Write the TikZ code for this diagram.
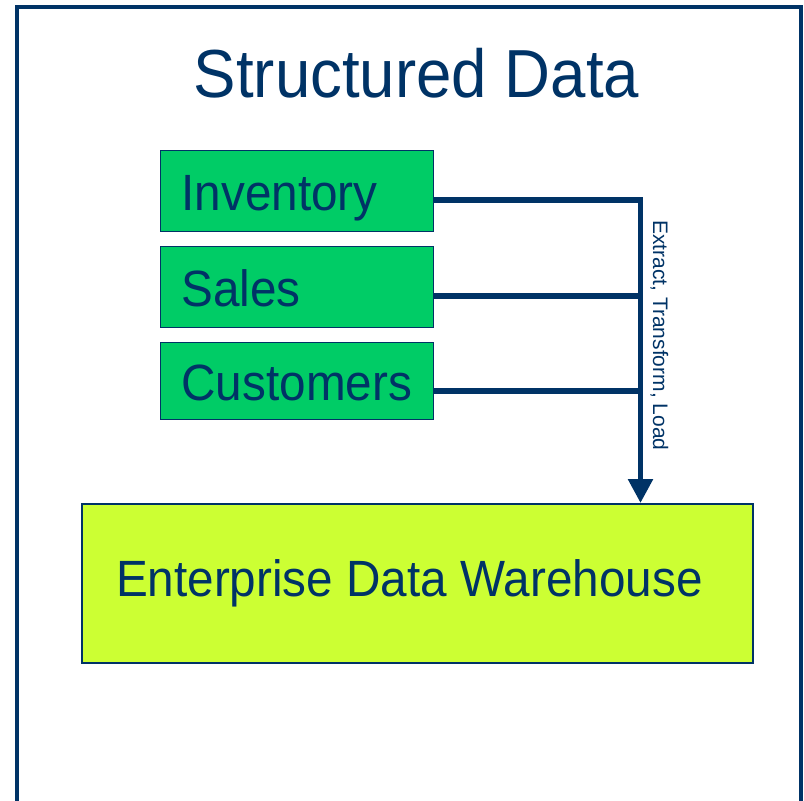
\documentclass[tikz,border=0pt]{standalone}
\usepackage{fontspec}
\setmainfont{Liberation Sans}[FakeStretch=0.935]
\newfontfamily\etlfont{Liberation Sans}
\usetikzlibrary{arrows.meta}
\definecolor{navy}{RGB}{0,51,102}
\definecolor{srcgreen}{RGB}{0,204,102}
\definecolor{lime}{RGB}{204,255,51}
\tikzset{
  frame/.style={draw=navy, line width=4bp},
  srcbox/.style={draw=navy, line width=1bp, fill=srcgreen, text=navy,
    anchor=north west, inner xsep=21bp, inner ysep=0pt,
    text width=231bp, align=left, minimum width=273bp,
    text height=39bp, text depth=0pt,
    font=\fontsize{51bp}{56bp}\selectfont},
  whbox/.style={draw=navy, line width=2bp, fill=lime, text=navy,
    anchor=north west, inner xsep=34bp, inner ysep=0pt,
    text width=603bp, align=left, minimum width=671bp, minimum height=159bp,
    text height=36.5bp, text depth=11.5bp,
    font=\fontsize{51bp}{56bp}\selectfont,
    execute at begin node={\spaceskip=0.26em\relax}},
  busline/.style={draw=navy, line width=5.5bp, line join=miter},
  titletext/.style={text=navy, inner sep=0pt, anchor=base,
    font=\fontsize{68bp}{74bp}\selectfont},
  etltext/.style={text=navy, inner sep=0pt, rotate=-90, anchor=base west,
    font=\etlfont\fontsize{21bp}{24bp}\selectfont}
}
\begin{document}
\begin{tikzpicture}[x=1bp, y=-1bp]
\useasboundingbox (0,0) rectangle (804,801);
\path[clip] (0,0) rectangle (804,801);
\fill[white] (0,0) rectangle (804,801);
% outer frame
\draw[frame] (17,830) -- (17,7) -- (801,7) -- (801,830);
% title
\node[titletext] (title) at (416.5,97) {Structured Data};
% source boxes
\node[srcbox, minimum height=81bp] (inv) at (160,150) {Inventory};
\node[srcbox, minimum height=81bp] (sales) at (160,246) {Sales};
\node[srcbox, minimum height=77bp] (cust) at (160,342) {Customers};
% warehouse
\node[whbox] (edw) at (81,503) {Enterprise Data Warehouse};
% bus
\coordinate (busx) at (640.5,0);
\draw[busline, -{Triangle[width=24bp,length=24bp]}]
  ([yshift=-9bp]inv.east) -| (edw.north -| busx);
\draw[busline] ([yshift=-9bp]sales.east) -- ([yshift=-9bp]sales.east -| busx);
\draw[busline] ([yshift=-10bp]cust.east) -- ([yshift=-10bp]cust.east -| busx);
% label
\node[etltext] (etl) at (653,220) {Extract, Transform, Load};
\end{tikzpicture}
\end{document}
